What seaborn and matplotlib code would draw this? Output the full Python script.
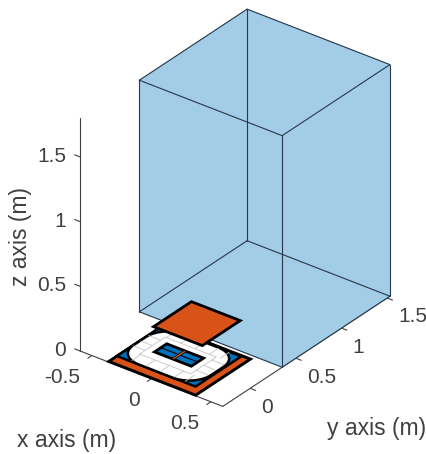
import numpy as np
import matplotlib
matplotlib.use("Agg")
import matplotlib.pyplot as plt
import seaborn as sns
from mpl_toolkits.mplot3d import proj3d
from mpl_toolkits.mplot3d.art3d import Poly3DCollection

# -------------------------------
# Data (metres)
# -------------------------------
x_ticks = [-0.5, 0, 0.5]
y_ticks = [0, 0.5, 1, 1.5]
z_ticks = [0, 0.5, 1, 1.5]
x_tick_labels = ["-0.5", "0", "0.5"]
y_tick_labels = ["0", "0.5", "1", "1.5"]
z_tick_labels = ["0", "0.5", "1", "1.5"]
x_range = [-0.6, 0.6]
y_range = [-0.3, 1.53]
z_range = [0, 1.8]

room_x = [-0.6, 0.6]
room_y = [0.35, 1.53]
room_z = [0, 1.79]

base_x = [-0.37, 0.36]
base_y = [-0.29, 0.31]
shield_x = [-0.37, 0.29]
shield_y = [-0.2, 0.3]
coil_x = [-0.37, 0.28]
coil_y = [-0.2, 0.3]
coil_radius = 0.18
slot_x = [-0.205, 0.105]
slot_y = [-0.005, 0.13]
bar_x = [-0.06, -0.04]
top_x = [-0.205, 0.205]
top_y = [-0.015, 0.4]
top_z = 0.2

grid_inset = 0.11
grid_x = [-0.25, -0.13, -0.01, 0.11, 0.2]
grid_y = [-0.03, 0.05, 0.14]

# -------------------------------
# Style
# -------------------------------
sns.set_theme(style="white")
plt.rcParams['font.family'] = ['Liberation Sans', 'DejaVu Sans']

ORANGE = "#D95319"
BLUE = "#0072BD"
ROOM = "#A3CCE6"
ROOM_EDGE = "#26384A"
AXIS = "#404040"
TEXT = "#404040"
GRID = "#C4C4C4"

# -------------------------------
# Figure and 3D view
# -------------------------------
W, H = 427, 454
fig = plt.figure(figsize=(W / 100, H / 100), dpi=100)

# axes sized so that one metre is 150 px, with limits centre at a known pixel
lims = [(-1.5, 1.5), (-1.0, 2.0), (-1.0, 2.0)]
scale = 150
world = 1.8294640721620434 * 25 / 24 / np.sqrt(3) / 3
side = scale * 1.85 / world
cx_px, cy_px = 224.45, 265.8
left = cx_px - side * 0.095 / 0.185
bottom = (H - cy_px) - side * 0.095 / 0.185
ax = fig.add_axes([left / W, bottom / H, side / W, side / H],
                  projection='3d', computed_zorder=False)
ax.set_proj_type('ortho')
ax.view_init(elev=30.4, azim=-52.5)
ax.set_box_aspect((3, 3, 3))
ax.set_xlim(*lims[0], view_margin=0)
ax.set_ylim(*lims[1], view_margin=0)
ax.set_zlim(*lims[2], view_margin=0)
ax.set_xticks([])
ax.set_yticks([])
ax.set_zticks([])
ax.set_axis_off()
ax.patch.set_alpha(0)


def rect(xr, yr, z):
    return [(xr[0], yr[0], z), (xr[1], yr[0], z), (xr[1], yr[1], z), (xr[0], yr[1], z)]


def flat(verts, face, edge, lw, order):
    poly = Poly3DCollection([verts], facecolors=face, edgecolors=edge,
                            linewidths=lw, zorder=order)
    poly.set_joinstyle('miter')
    ax.add_collection3d(poly)


def rounded(xr, yr, r, z):
    pts = []
    corners = [(xr[1] - r, yr[0] + r, -90), (xr[1] - r, yr[1] - r, 0),
               (xr[0] + r, yr[1] - r, 90), (xr[0] + r, yr[0] + r, 180)]
    for px, py, start in corners:
        for a in np.radians(np.linspace(start, start + 90, 13)):
            pts.append((px + r * np.cos(a), py + r * np.sin(a), z))
    return pts


def label3d(x, y, z, s, ha):
    # project first so the label is an ordinary 2D text
    u, v, _ = proj3d.proj_transform(x, y, z, ax.get_proj())
    ax.text2D(u, v, s, transform=ax.transData, ha=ha, va='center', fontsize=15, color=TEXT)


# -------------------------------
# Axis lines and ticks
# -------------------------------
xa, xb = x_range
ya, yb = y_range
ax.plot(x_range, [ya, ya], [0, 0], color=AXIS, lw=0.8, zorder=1)
ax.plot([xb, xb], y_range, [0, 0], color=AXIS, lw=0.8, zorder=1)
ax.plot([xa, xa], [ya, ya], z_range, color=AXIS, lw=0.8, zorder=1)

tick = 0.045
for t, s in zip(x_ticks, x_tick_labels):
    ax.plot([t, t], [ya, ya - tick], [0, 0], color=AXIS, lw=0.8, zorder=1)
    label3d(t + 0.115, ya - 0.278, 0, s, 'right')
for t, s in zip(y_ticks, y_tick_labels):
    ax.plot([xb, xb + tick], [t, t], [0, 0], color=AXIS, lw=0.8, zorder=1)
    label3d(xb + 0.212, t - 0.152, 0, s, 'left')
for t, s in zip(z_ticks, z_tick_labels):
    ax.plot([xa, xa - tick], [ya, ya], [t, t], color=AXIS, lw=0.8, zorder=1)
    label3d(xa - 0.09, ya - 0.037, t - 0.012, s, 'right')

# -------------------------------
# Room volume (flat colour, all twelve edges visible)
# -------------------------------
rx, ry, rz = room_x, room_y, room_z
faces = [rect(rx, ry, rz[0]), rect(rx, ry, rz[1]),
         [(rx[0], ry[0], rz[0]), (rx[1], ry[0], rz[0]), (rx[1], ry[0], rz[1]), (rx[0], ry[0], rz[1])],
         [(rx[1], ry[0], rz[0]), (rx[1], ry[1], rz[0]), (rx[1], ry[1], rz[1]), (rx[1], ry[0], rz[1])],
         [(rx[0], ry[0], rz[0]), (rx[0], ry[1], rz[0]), (rx[0], ry[1], rz[1]), (rx[0], ry[0], rz[1])],
         [(rx[0], ry[1], rz[0]), (rx[1], ry[1], rz[0]), (rx[1], ry[1], rz[1]), (rx[0], ry[1], rz[1])]]
ax.add_collection3d(Poly3DCollection(faces, facecolors=ROOM, edgecolors=ROOM, linewidths=0.2, zorder=2))
for xs in rx:
    for ys in ry:
        ax.plot([xs, xs], [ys, ys], rz, color=ROOM_EDGE, lw=0.8, zorder=3)
for zs in rz:
    for xs in rx:
        ax.plot([xs, xs], ry, [zs, zs], color=ROOM_EDGE, lw=0.8, zorder=3)
    for ys in ry:
        ax.plot(rx, [ys, ys], [zs, zs], color=ROOM_EDGE, lw=0.8, zorder=3)

# -------------------------------
# Plates on the floor
# -------------------------------
flat(rect(base_x, base_y, 0), ORANGE, "black", 2.1, 4)
flat(rect(shield_x, shield_y, 0), BLUE, "black", 1.8, 5)
flat(rounded(coil_x, coil_y, coil_radius, 0), "white", "black", 1.8, 6)

# grid on the coil: loop plus short spokes
gx = [coil_x[0] + grid_inset, coil_x[1] - grid_inset]
gy = [coil_y[0] + grid_inset, coil_y[1] - grid_inset]
ax.plot([gx[0], gx[1], gx[1], gx[0], gx[0]], [gy[0], gy[0], gy[1], gy[1], gy[0]],
        [0] * 5, color=GRID, lw=0.6, zorder=7)
for t in grid_x:
    ax.plot([t, t], [coil_y[0] + 0.01, gy[0]], [0, 0], color=GRID, lw=0.6, zorder=7)
    ax.plot([t, t], [gy[1], coil_y[1] - 0.01], [0, 0], color=GRID, lw=0.6, zorder=7)
for t in grid_y:
    ax.plot([coil_x[0] + 0.01, gx[0]], [t, t], [0, 0], color=GRID, lw=0.6, zorder=7)
    ax.plot([gx[1], coil_x[1] - 0.01], [t, t], [0, 0], color=GRID, lw=0.6, zorder=7)

# centre slot
flat(rect(slot_x, slot_y, 0), BLUE, "black", 2.0, 8)
mid_y = sum(slot_y) / 2
ax.plot(slot_x, [mid_y, mid_y], [0, 0], color="black", lw=0.8, zorder=9)
flat(rect(bar_x, slot_y, 0), ORANGE, "black", 0.5, 10)

# raised plate
flat(rect(top_x, top_y, top_z), ORANGE, "black", 2.0, 11)

# -------------------------------
# Axis labels
# -------------------------------
fig.text(66.5 / W, 1 - 440 / H, "x axis (m)", ha='center', va='center', fontsize=16.5, color=TEXT)
fig.text(376.5 / W, 1 - 428 / H, "y axis (m)", ha='center', va='center', fontsize=16.5, color=TEXT)
fig.text(21 / W, 1 - 236 / H, "z axis (m)", ha='center', va='center', rotation=90, fontsize=16.5, color=TEXT)

fig.savefig("out.png", dpi=100, facecolor="white")
